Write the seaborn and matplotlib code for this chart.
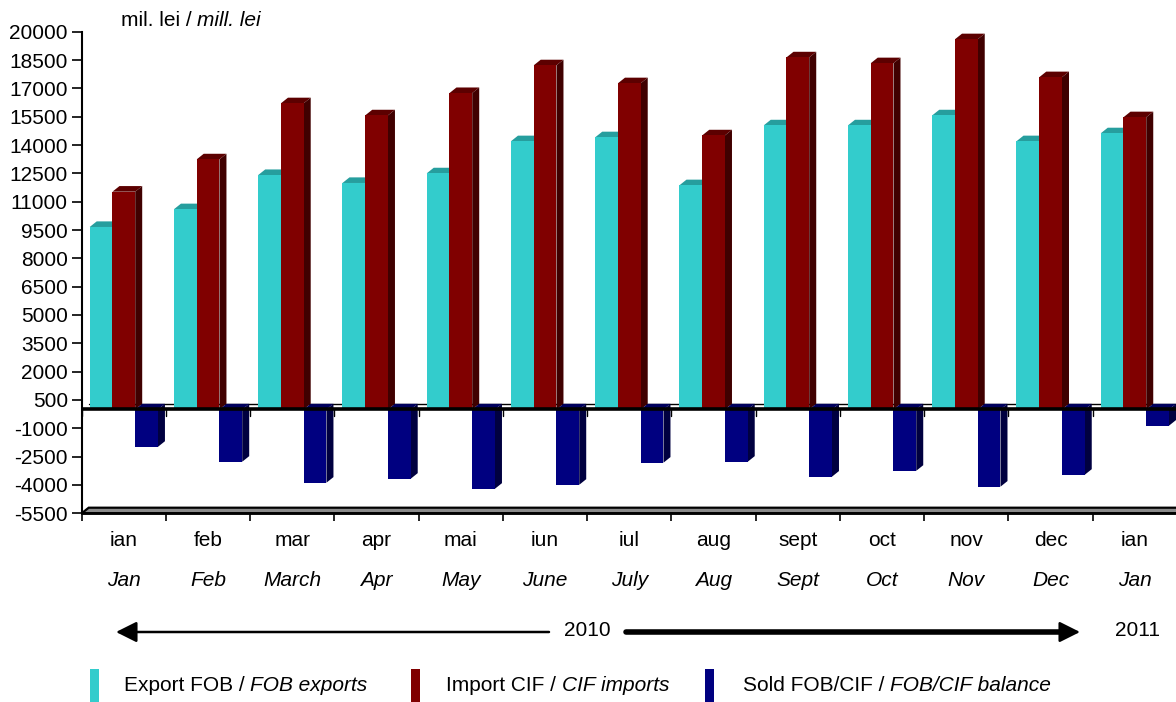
import numpy as np
import pandas as pd
import matplotlib
matplotlib.use("Agg")
import matplotlib.pyplot as plt
import seaborn as sns
from matplotlib.patches import Polygon, Rectangle
from matplotlib import transforms

# ---------------- data ----------------
periods = ["2010-01", "2010-02", "2010-03", "2010-04", "2010-05", "2010-06", "2010-07",
           "2010-08", "2010-09", "2010-10", "2010-11", "2010-12", "2011-01"]
months_ro = ["ian", "feb", "mar", "apr", "mai", "iun", "iul", "aug", "sept", "oct", "nov", "dec", "ian"]
months_en = ["Jan", "Feb", "March", "Apr", "May", "June", "July", "Aug", "Sept", "Oct", "Nov", "Dec", "Jan"]
exports = [9660, 10600, 12410, 11990, 12500, 14200, 14410, 11870, 15040, 15040, 15570, 14200, 14620]
imports = [11530, 13240, 16210, 15570, 16750, 18220, 17270, 14510, 18640, 18330, 19600, 17590, 15470]
balance = [-1980, -2770, -3880, -3670, -4200, -3990, -2820, -2770, -3560, -3250, -4090, -3460, -860]
series_names = ["Export FOB", "Import CIF", "Sold FOB/CIF"]
legend_ro = ["Export FOB / ", "Import CIF / ", "Sold FOB/CIF / "]
legend_en = ["FOB exports", "CIF imports", "FOB/CIF balance"]
y_ticks = list(range(20000, -5501, -1500))
years = ["2010", "2011"]
unit_ro = "mil. lei / "
unit_en = "mill. lei"

front_colors = ["#33CCCC", "#800000", "#000080"]
top_colors = ["#269E9E", "#5C0000", "#00005C"]
side_colors = ["#1E7878", "#400000", "#000040"]

# ---------------- figure ----------------
sns.set_style("white")
plt.rcParams['font.family'] = ['Liberation Sans', 'DejaVu Sans']
FS = 15

W, H = 1176, 702
fig = plt.figure(figsize=(W / 100, H / 100), dpi=100)
ax_left, ax_right, ax_top, ax_bottom = 81.7, 1177.0, 31.7, 513.3
ax = fig.add_axes([ax_left / W, 1 - ax_bottom / H, (ax_right - ax_left) / W, (ax_bottom - ax_top) / H])

df = pd.DataFrame({
    "period": periods * 3,
    "series": [s for s in series_names for _ in periods],
    "value": exports + imports + balance,
})
sns.barplot(data=df, x="period", y="value", hue="series", order=periods,
            hue_order=series_names, palette=front_colors, width=0.81,
            saturation=1, edgecolor="none", errorbar=None, legend=False, ax=ax)

ax.set_xlim(-0.5, 12.5)
ax.set_ylim(-5500, 20000)

# depth offsets (pixels -> data units)
DX_PX, DY_PX = 7.0, 5.6
w_px = ax_right - ax_left
h_px = ax_bottom - ax_top
dxd = DX_PX * 13 / w_px
dyd = DY_PX * 25500 / h_px
ypp = 25500 / h_px

# pseudo 3D faces
for ci, cont in enumerate(ax.containers):
    for rect in cont.patches:
        rect.set_zorder(3)
        x0 = rect.get_x()
        w = rect.get_width()
        v = rect.get_y() + rect.get_height() if rect.get_height() >= 0 else rect.get_y() + rect.get_height()
        v = rect.get_height()
        x1 = x0 + w
        if v >= 0:
            top = [(x0, v), (x1, v), (x1 + dxd, v + dyd), (x0 + dxd, v + dyd)]
        else:
            top = [(x0, 0), (x1, 0), (x1 + dxd, dyd), (x0 + dxd, dyd)]
        side = [(x1, 0), (x1 + dxd, dyd), (x1 + dxd, v + dyd), (x1, v)]
        ax.add_patch(Polygon(top, closed=True, facecolor=top_colors[ci], edgecolor="none", zorder=2))
        ax.add_patch(Polygon(side, closed=True, facecolor=side_colors[ci], edgecolor="none", zorder=2))

# zero plane lines
ax.axhline(0, color="black", lw=2.6, zorder=4)
ax.plot([-0.5 + dxd, 12.5 + dxd], [dyd, dyd], color="black", lw=1.0, zorder=1.5)
for b in np.arange(-0.5, 13.0, 1.0):
    ax.plot([b, b], [0, -7 * ypp], color="black", lw=1.0, zorder=4, clip_on=False)

# floor
floor = [(-0.5, -5500), (12.5, -5500), (12.5 + dxd, -5500 + dyd), (-0.5 + dxd, -5500 + dyd)]
ax.add_patch(Polygon(floor, closed=True, facecolor="#8a8a8a", edgecolor="black", lw=1.6,
                     zorder=2.5, clip_on=False))

# axes styling
for s in ["top", "right"]:
    ax.spines[s].set_visible(False)
ax.spines["left"].set_color("black")
ax.spines["left"].set_linewidth(1.5)
ax.spines["bottom"].set_color("black")
ax.spines["bottom"].set_linewidth(2.0)
ax.set_yticks(y_ticks)
ax.set_yticklabels([str(t) for t in y_ticks], fontsize=FS, color="black")
ax.set_xticks(np.arange(-0.5, 13.0, 1.0))
ax.set_xticklabels([""] * 14)
ax.tick_params(axis="y", direction="out", length=7, width=1.2, color="black", pad=3, left=True)
ax.tick_params(axis="x", direction="out", length=6, width=1.2, color="black", bottom=True)
ax.set_xlabel("")
ax.set_ylabel("")
ax.grid(False)

# month labels
blend = transforms.blended_transform_factory(ax.transData, fig.transFigure)
for i in range(len(periods)):
    ax.text(i, 1 - 541 / H, months_ro[i], transform=blend, ha="center", va="center",
            fontsize=FS, color="black", clip_on=False)
    ax.text(i, 1 - 581 / H, months_en[i], transform=blend, ha="center", va="center",
            fontsize=FS, style="italic", color="black", clip_on=False)

# year arrows
ya = H - 632
ax.annotate("", xy=(116, ya), xytext=(549, ya), xycoords="figure pixels",
            arrowprops=dict(arrowstyle="-|>,head_length=0.7,head_width=0.35", color="black",
                            lw=1.8, mutation_scale=18, shrinkA=0, shrinkB=0))
ax.annotate("", xy=(1062, ya), xytext=(626, ya), xycoords="figure pixels",
            arrowprops=dict(arrowstyle="-", color="black", lw=4, shrinkA=0, shrinkB=0))
ax.annotate("", xy=(1080, ya), xytext=(1058, ya), xycoords="figure pixels",
            arrowprops=dict(arrowstyle="-|>,head_length=0.7,head_width=0.35", color="black",
                            lw=1.8, mutation_scale=18, shrinkA=0, shrinkB=0))
fig.text(587 / W, 1 - 630 / H, years[0], ha="center", va="center", fontsize=FS, color="black")
fig.text(1137 / W, 1 - 630 / H, years[1], ha="center", va="center", fontsize=FS, color="black")


def rich(x_px, y_px, normal, italic):
    t = fig.text(x_px / W, 1 - y_px / H, normal, ha="left", va="bottom", fontsize=FS, color="black")
    fig.axes[0].annotate(italic, xy=(1, 0), xycoords=t, ha="left", va="bottom",
                         fontsize=FS, style="italic", color="black", annotation_clip=False)


# unit title
rich(121, 30, unit_ro, unit_en)

# legend
marker_x = [90, 411, 705]
text_x = [124, 446, 743]
for i in range(3):
    fig.patches.append(Rectangle((marker_x[i] / W, 0), 9 / W, 33 / H, transform=fig.transFigure,
                                 facecolor=front_colors[i], edgecolor="none"))
    rich(text_x[i], 695, legend_ro[i], legend_en[i])

fig.savefig("out.png", dpi=100)
